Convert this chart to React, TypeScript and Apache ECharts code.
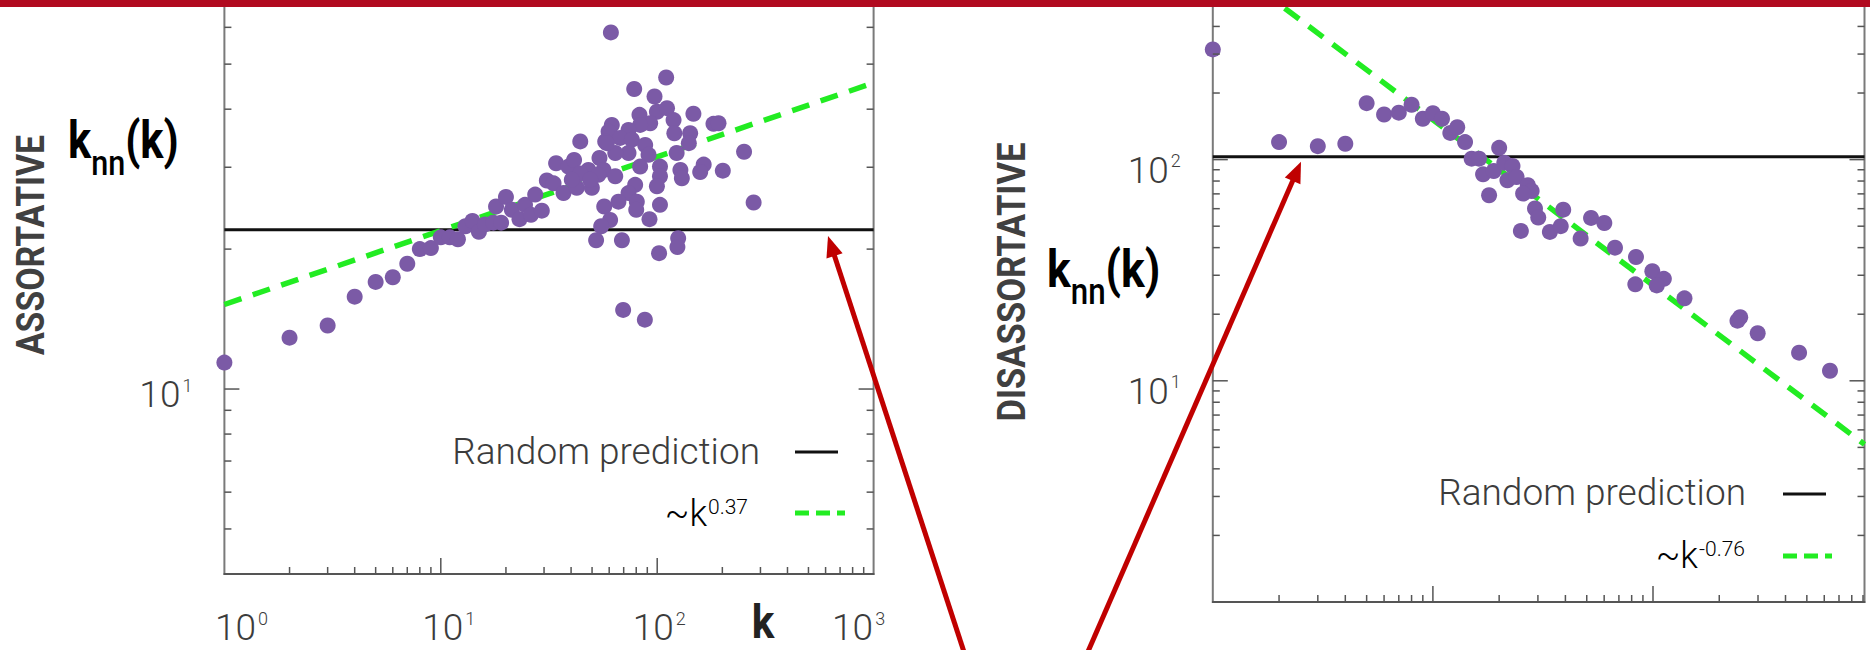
import React, { useEffect, useRef } from "react";
import * as echarts from "echarts";

// ---------------- Assortative panel (left) ----------------
const assortK = [
  1, 2, 3, 4, 5, 6, 7, 8, 9, 10, 11, 12, 13, 14, 15, 16, 17.5, 19, 18, 20, 21.3, 23.1, 24.5, 26.1, 27.3, 29.3,
  30.9, 34.1, 33.2, 36.9, 38.9, 41.3, 44.1, 42.5, 48.1, 49.9, 54.1, 56.5, 64,
  61.1, 110, 78.3, 97.2, 82.8, 99.7, 111, 119, 147, 182, 192, 120, 142, 92.8, 83.4, 61.7, 59.6, 73.7, 67.4, 76.4,
  57.5, 88, 140, 123, 91.2, 73.7, 64, 252, 83.4, 103, 128, 164, 158, 201, 53.5, 103, 130, 99.7, 79.1, 73.7,
  66.2, 80.5, 56.9, 80, 103, 279, 92.1, 60.6, 55.1, 52.2, 68.7, 125, 124, 102, 44.1, 49, 40.3, 58.5, 69.6, 87.7,
];
const assortKnn = [
  11.4, 12.9, 13.7, 15.8, 17.0, 17.4, 18.6, 20.0, 20.1, 21.2, 21.2, 21.0, 22.4, 23.0, 21.8, 22.6, 22.8, 22.8, 24.7,
  25.9, 24.3, 23.2, 24.9, 23.7, 26.2, 24.2, 28.1, 30.6, 27.7, 26.4, 30.1, 31.1, 34.1, 27.1, 29.6, 27.1, 31.4, 29.6, 28.7,
  58.5, 46.8, 44.2, 42.6, 38.9, 39.5, 40.2, 37.9, 39.1, 37.2, 37.3, 35.5, 35.5, 37.3, 37.0, 37.0, 35.8, 36.1, 34.7, 34.4,
  34.1, 33.5, 33.8, 32.2, 31.9, 32.2, 32.2, 32.4, 30.1, 30.1, 29.6, 30.4, 29.3, 29.5, 28.9, 28.7, 28.4, 27.3, 27.5, 26.4,
  25.3, 25.3, 24.7, 24.3, 24.9, 25.2, 23.2, 23.1, 22.4, 20.9, 20.9, 21.1, 20.2, 19.6, 29.1, 28.2, 28.2, 33.8, 14.8, 14.1,
];
const assortRandomK = [1, 1000];
const assortRandomKnn = [22.0, 22.0];
const assortFitK = [1, 950];
const assortFitKnn = [15.2, 45.2];
const assortKRange = [1, 1000];
const assortKnnRange = [4, 68.7];
const assortYTicksMajor = [10];
const assortYTicksMinor = [5, 6, 7, 8, 9, 20, 30, 40, 50, 60];
const assortXLabelExp = [0, 1, 2, 3];
const assortYLabelExp = [1];

// ---------------- Disassortative panel (right) ----------------
const disK = [
  1, 2, 3, 4, 5, 6, 7, 8, 9, 10, 11, 12, 12.9, 14, 15, 16.2, 16.9, 20, 18.9, 18, 21.1, 23, 21.8, 24, 27, 28.1, 25.7,
  29.1, 30.1, 25.1, 34, 39.1, 38.1, 46.9, 52.3, 60.1, 67.2, 83.7, 83.1, 99.3, 112, 104, 139, 249, 242, 299, 461, 637,
];
const disKnn = [
  315, 120, 115, 118, 180, 160, 163, 177, 153, 162, 153, 132, 140, 120, 101, 101, 85.8, 113, 88.8, 69, 96.9, 93.6, 80.6,
  83.4, 76.6, 72.1, 70.2, 60.1, 54.7, 47.6, 47.1, 59.4, 50, 44, 54.5, 51.7, 40, 36.3, 27.3, 31.3, 28.9, 27, 23.6, 19.4,
  18.7, 16.4, 13.4, 11.1,
];
const disRandomK = [1, 914];
const disRandomKnn = [103, 103];
const disFitK = [1, 914];
const disFitKnn = [849, 5.16];
const disKRange = [1, 914];
const disKnnRange = [1, 526.7];
const disYTicksMajor = [10, 100];
const disYTicksMinor = [2, 3, 4, 5, 6, 7, 8, 9, 20, 30, 40, 50, 60, 70, 80, 90, 200, 300, 400, 500];
const disYLabelExp = [1, 2];

// shared k ticks
const kTicksMajor = [10, 100];
const kTicksMinor = [
  2, 3, 4, 5, 6, 7, 8, 9, 20, 30, 40, 50, 60, 70, 80, 90, 200, 300, 400, 500, 600, 700, 800, 900,
];

// ---------------- styles ----------------
const PURPLE = "#7b5aa6";
const GREEN = "#22ec22";
const RED_BAR = "#b10a1f";
const RED_ARROW = "#c00000";
const TXT = "#3c3c3c";
const LIGHT = "Roboto, sans-serif";
const BOLD = "Roboto, sans-serif";
const X_LABEL_SHIFT: Record<number, number> = { 0: 17, 1: 8, 2: 2, 3: -15 };

const zip = (a: number[], b: number[]) => a.map((v, i) => [v, b[i]]);

function powerLabel(v: number, allowed: number[], shifts?: Record<number, number>) {
  const e = Math.round(Math.log10(v));
  if (Math.abs(v - Math.pow(10, e)) > 1e-6 * v) return "";
  if (allowed.indexOf(e) < 0) return "";
  const core = `{b|10}{s|${e}}`;
  const sh = shifts ? shifts[e] || 0 : 0;
  if (!sh) return core;
  return sh > 0 ? `{g${e}| }${core}` : `${core}{g${e}| }`;
}

const tickRich: any = {
  b: { fontFamily: LIGHT, fontWeight: 300, fontSize: 37, lineHeight: 30, color: TXT, verticalAlign: "top" },
  s: { fontFamily: LIGHT, fontWeight: 300, fontSize: 18, lineHeight: 14, color: TXT, verticalAlign: "top", padding: [0, 0, 0, 2] },
};
Object.keys(X_LABEL_SHIFT).forEach((k) => {
  tickRich["g" + k] = { width: Math.abs(X_LABEL_SHIFT[+k]) * 2, fontSize: 10, lineHeight: 10 };
});

const tickStyle = { stroke: "#555", lineWidth: 1.5 };

function xTickSeries(idx: number, majors: number[], minors: number[], yBase: number) {
  const all = majors.concat(minors);
  return {
    type: "custom",
    xAxisIndex: idx,
    yAxisIndex: idx,
    silent: true,
    z: 5,
    data: all.map((v) => [v, yBase]),
    encode: { x: 0, y: 1 },
    renderItem: (params: any, api: any) => {
      const cs = params.coordSys;
      const v = api.value(0);
      const p = api.coord([v, api.value(1)]);
      const len = majors.indexOf(v) >= 0 ? 16 : 7;
      const yb = cs.y + cs.height;
      return { type: "line", shape: { x1: p[0], y1: yb, x2: p[0], y2: yb - len }, style: tickStyle };
    },
  };
}

function yTickSeries(idx: number, majors: number[], minors: number[], xBase: number) {
  const all = majors.concat(minors);
  return {
    type: "custom",
    xAxisIndex: idx,
    yAxisIndex: idx,
    silent: true,
    z: 5,
    data: all.map((v) => [xBase, v]),
    encode: { x: 0, y: 1 },
    renderItem: (params: any, api: any) => {
      const cs = params.coordSys;
      const v = api.value(1);
      const p = api.coord([api.value(0), v]);
      const len = majors.indexOf(v) >= 0 ? 15 : 7;
      const xl = cs.x;
      const xr = cs.x + cs.width;
      return {
        type: "group",
        children: [
          { type: "line", shape: { x1: xl, y1: p[1], x2: xl + len, y2: p[1] }, style: tickStyle },
          { type: "line", shape: { x1: xr, y1: p[1], x2: xr - len, y2: p[1] }, style: tickStyle },
        ],
      };
    },
  };
}

function arrow(tail: number[], tip: number[]) {
  const dx = tip[0] - tail[0];
  const dy = tip[1] - tail[1];
  const L = Math.hypot(dx, dy);
  const ux = dx / L, uy = dy / L;
  const hl = 21, hw = 8.5;
  const bx = tip[0] - ux * hl, by = tip[1] - uy * hl;
  const px = -uy, py = ux;
  return [
    { type: "line", z: 90, shape: { x1: tail[0], y1: tail[1], x2: bx + ux * 2, y2: by + uy * 2 }, style: { stroke: RED_ARROW, lineWidth: 5 } },
    {
      type: "polygon",
      z: 90,
      shape: { points: [[tip[0], tip[1]], [bx + px * hw, by + py * hw], [bx - px * hw, by - py * hw]] },
      style: { fill: RED_ARROW },
    },
  ];
}

const knnRich: any = {
  k: { fontFamily: BOLD, fontWeight: "bold", fontSize: 51, lineHeight: 51, color: "#222", padding: [0, 0, 15, 0], verticalAlign: "bottom" },
  n: { fontFamily: BOLD, fontWeight: 500, fontSize: 36, lineHeight: 36, color: "#222", verticalAlign: "bottom" },
};
const legRich: any = {
  t: { fontFamily: LIGHT, fontWeight: 300, fontSize: 36, lineHeight: 36, color: TXT, verticalAlign: "top" },
  s: { fontFamily: LIGHT, fontWeight: 300, fontSize: 21, lineHeight: 21, color: TXT, verticalAlign: "top", padding: [0, 0, 0, 1] },
};

export default function App() {
  const ref = useRef<HTMLDivElement>(null);
  useEffect(() => {
    if (!ref.current) return;
    const chart = echarts.init(ref.current, undefined, { renderer: "svg" });
    const option: any = {
      animation: false,
      textStyle: { fontFamily: LIGHT },
      grid: [
        { left: 224.4, top: 0, width: 649.2, height: 574, show: true, borderColor: "#7a7a7a", borderWidth: 2, backgroundColor: "transparent" },
        { left: 1212.8, top: 0, width: 651.7, height: 602, show: true, borderColor: "#7a7a7a", borderWidth: 2, backgroundColor: "transparent" },
      ],
      xAxis: [
        {
          type: "log", logBase: 10, gridIndex: 0, min: assortKRange[0], max: assortKRange[1],
          axisLine: { show: true, lineStyle: { color: "#555", width: 2 } },
          axisTick: { show: false }, splitLine: { show: false },
          axisLabel: { margin: 35, formatter: (v: number) => powerLabel(v, assortXLabelExp, X_LABEL_SHIFT), rich: tickRich },
        },
        {
          type: "log", logBase: 10, gridIndex: 1, min: disKRange[0], max: disKRange[1],
          axisLine: { show: true, lineStyle: { color: "#555", width: 2 } },
          axisTick: { show: false }, splitLine: { show: false }, axisLabel: { show: false },
        },
      ],
      yAxis: [
        {
          type: "log", logBase: 10, gridIndex: 0, min: assortKnnRange[0], max: assortKnnRange[1],
          axisLine: { show: false }, axisTick: { show: false }, splitLine: { show: false },
          axisLabel: { margin: 32, padding: [4, 0, 0, 0], formatter: (v: number) => powerLabel(v, assortYLabelExp), rich: tickRich },
        },
        {
          type: "log", logBase: 10, gridIndex: 1, min: disKnnRange[0], max: disKnnRange[1],
          axisLine: { show: false }, axisTick: { show: false }, splitLine: { show: false },
          axisLabel: { margin: 32, padding: [14, 0, 0, 0], formatter: (v: number) => powerLabel(v, disYLabelExp), rich: tickRich },
        },
      ],
      series: [
        xTickSeries(0, kTicksMajor, kTicksMinor, assortKnnRange[0]),
        yTickSeries(0, assortYTicksMajor, assortYTicksMinor, assortKRange[0]),
        xTickSeries(1, kTicksMajor, kTicksMinor, disKnnRange[0]),
        yTickSeries(1, disYTicksMajor, disYTicksMinor, disKRange[0]),
        {
          name: "Random prediction", type: "line", xAxisIndex: 0, yAxisIndex: 0, symbol: "none", silent: true, z: 3,
          data: zip(assortRandomK, assortRandomKnn), lineStyle: { color: "#111", width: 3 },
        },
        {
          name: "~k^0.37", type: "line", xAxisIndex: 0, yAxisIndex: 0, symbol: "none", silent: true, z: 3,
          data: zip(assortFitK, assortFitKnn), lineStyle: { color: GREEN, width: 5.5, type: [18, 12] },
        },
        {
          name: "assortative", type: "scatter", xAxisIndex: 0, yAxisIndex: 0, symbolSize: 16, z: 4,
          data: zip(assortK, assortKnn), itemStyle: { color: PURPLE, opacity: 1 },
        },
        {
          name: "Random prediction ", type: "line", xAxisIndex: 1, yAxisIndex: 1, symbol: "none", silent: true, z: 3,
          data: zip(disRandomK, disRandomKnn), lineStyle: { color: "#111", width: 3 },
        },
        {
          name: "~k^-0.76", type: "line", xAxisIndex: 1, yAxisIndex: 1, symbol: "none", silent: true, z: 3,
          data: zip(disFitK, disFitKnn), lineStyle: { color: GREEN, width: 5.5, type: [18, 12] },
        },
        {
          name: "disassortative", type: "scatter", xAxisIndex: 1, yAxisIndex: 1, symbolSize: 16, z: 4,
          data: zip(disK, disKnn), itemStyle: { color: PURPLE, opacity: 1 },
        },
      ],
      graphic: [
        { type: "rect", z: 100, shape: { x: 0, y: 0, width: 1870, height: 7 }, style: { fill: RED_BAR } },
        // vertical titles
        {
          type: "text", z: 50, x: 31.5, y: 245, rotation: Math.PI / 2, scaleX: 0.89,
          style: { text: "ASSORTATIVE", fontFamily: BOLD, fontWeight: "bold", fontSize: 38, fill: "#404040", textAlign: "center", textVerticalAlign: "middle" },
        },
        {
          type: "text", z: 50, x: 1011.5, y: 282, rotation: Math.PI / 2, scaleX: 0.91,
          style: { text: "DISASSORTATIVE", fontFamily: BOLD, fontWeight: "bold", fontSize: 38, fill: "#404040", textAlign: "center", textVerticalAlign: "middle" },
        },
        // knn labels
        {
          type: "text", z: 50, x: 68, y: 181, scaleX: 0.85,
          style: { text: "{k|k}{n|nn}{k|(k)}", rich: knnRich, textAlign: "left", textVerticalAlign: "bottom" },
        },
        {
          type: "text", z: 50, x: 1047, y: 310, scaleX: 0.87,
          style: { text: "{k|k}{n|nn}{k|(k)}", rich: knnRich, textAlign: "left", textVerticalAlign: "bottom" },
        },
        // k axis name
        {
          type: "text", z: 50, x: 763, y: 622, scaleX: 0.92,
          style: { text: "k", fontFamily: BOLD, fontWeight: "bold", fontSize: 46, fill: "#222", textAlign: "center", textVerticalAlign: "middle" },
        },
        // left legend
        {
          type: "text", z: 50, x: 760, y: 451,
          style: { text: "Random prediction", fontFamily: LIGHT, fontWeight: 300, fontSize: 37, fill: TXT, textAlign: "right", textVerticalAlign: "middle" },
        },
        { type: "line", z: 50, shape: { x1: 795, y1: 452, x2: 838, y2: 452 }, style: { stroke: "#111", lineWidth: 3 } },
        {
          type: "text", z: 50, x: 748, y: 514,
          style: { text: "{t|~k}{s|0.37}", rich: legRich, textAlign: "right", textVerticalAlign: "middle" },
        },
        { type: "line", z: 50, shape: { x1: 795, y1: 513, x2: 845, y2: 513 }, style: { stroke: GREEN, lineWidth: 5, lineDash: [14, 7] } },
        // right legend
        {
          type: "text", z: 50, x: 1746, y: 492,
          style: { text: "Random prediction", fontFamily: LIGHT, fontWeight: 300, fontSize: 37, fill: TXT, textAlign: "right", textVerticalAlign: "middle" },
        },
        { type: "line", z: 50, shape: { x1: 1783, y1: 494, x2: 1826, y2: 494 }, style: { stroke: "#111", lineWidth: 3 } },
        {
          type: "text", z: 50, x: 1745, y: 556,
          style: { text: "{t|~k}{s|-0.76}", rich: legRich, textAlign: "right", textVerticalAlign: "middle" },
        },
        { type: "line", z: 50, shape: { x1: 1783, y1: 556, x2: 1832, y2: 556 }, style: { stroke: GREEN, lineWidth: 5, lineDash: [14, 7] } },
        // arrows
        ...arrow([965, 655], [828, 236]),
        ...arrow([1086.5, 655], [1301, 161.7]),
      ],
    };
    chart.setOption(option);
    return () => chart.dispose();
  }, []);
  return (
    <div
      ref={ref}
      style={{ position: "absolute", left: 0, top: 0, width: 1870, height: 650, background: "#fff" }}
    />
  );
}
